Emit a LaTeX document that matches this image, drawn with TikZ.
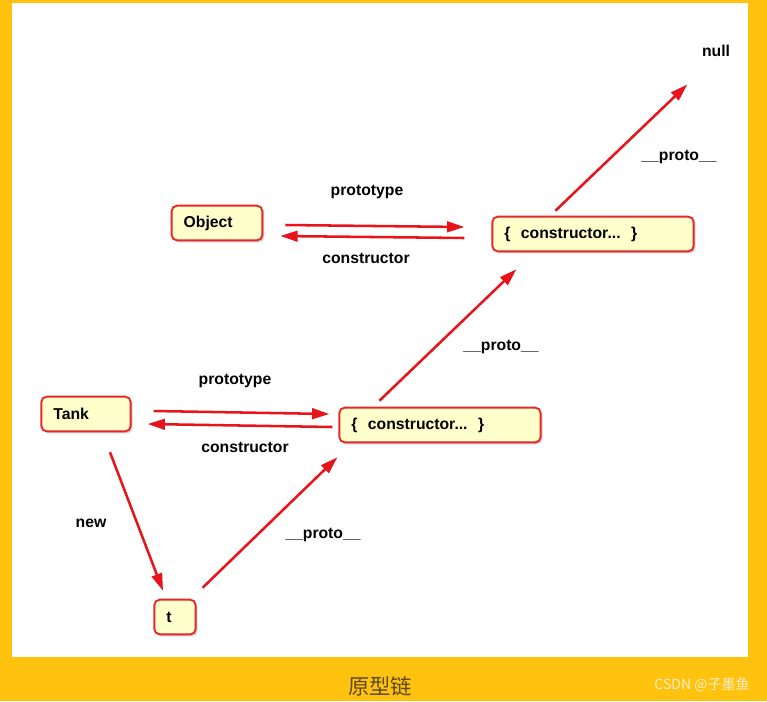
\documentclass[tikz,border=0pt]{standalone}
\usepackage{fontspec}
\setmainfont{Liberation Sans}
\newfontfamily\cjk{Noto Sans CJK SC}
\usepackage{tikz}
\usetikzlibrary{arrows.meta,calc,shadows}

\definecolor{frameyellow}{HTML}{FFC20E}
\definecolor{boxfill}{HTML}{FFFFCC}
\definecolor{boxred}{HTML}{E8262A}
\definecolor{linkred}{HTML}{E8141B}
\definecolor{captiongray}{HTML}{5A4A22}
\definecolor{markgray}{HTML}{FBF0CC}

\tikzset{
  objbox/.style={draw=boxred,line width=1.4pt,fill=boxfill,rounded corners=4pt,
    minimum height=26pt,inner xsep=9pt,align=left,
    font=\bfseries\fontsize{11.8}{14}\selectfont,
    drop shadow={shadow xshift=1.5pt,shadow yshift=-1.5pt,opacity=0.35}},
  link/.style={draw=linkred,line width=1.9pt,-{Triangle[length=13pt,width=8pt]}},
  lbl/.style={font=\bfseries\fontsize{11.8}{14}\selectfont}
}

\begin{document}
\begin{tikzpicture}[x=0.75pt,y=-0.75pt]
\useasboundingbox (0,0) rectangle (767,701);
\fill[frameyellow] (0,0) rectangle (767,701);
\fill[white] (12,3) rectangle (748,657);

% nodes
\node[objbox,text width=50pt] (obj) at (217,223) {Object};
\node[objbox,text width=133pt] (objproto) at (593,234) {\{\ \ constructor...\ \ \}};
\node[objbox,text width=49pt] (tank) at (86,414) {Tank};
\node[objbox,text width=133pt] (tankproto) at (440,425) {\{\ \ constructor...\ \ \}};
\node[objbox,text width=13pt] (t) at (175,617) {t};
\node[lbl] (null) at (716,51) {null};

% links
\draw[link] ($(obj.east)+(22,2)$) -- ($(objproto.west)+(-27,-7)$);
\draw[link] ($(objproto.west)+(-27,4)$) -- ($(obj.east)+(17,13)$);
\draw[link] ($(tank.east)+(22,-3)$) -- ($(tankproto.west)+(-9,-11)$);
\draw[link] ($(tankproto.west)+(-6,2)$) -- ($(tank.east)+(16,10)$);
\draw[link] ($(tank.south)+(24,20)$) -- ($(t.north)+(-12,-8)$);
\draw[link] ($(t.north east)+(6,-11)$) -- ($(tankproto.south west)+(-1,14)$);
\draw[link] ($(tankproto.north west)+(41,-6)$) -- ($(objproto.south west)+(25,17)$);
\draw[link] ($(objproto.north west)+(64,-5)$) -- ($(null.south west)+(-10,23)$);

% labels
\node[lbl] at (367,192) {prototype};
\node[lbl] at (366,258) {constructor};
\node[lbl] at (235,381) {prototype};
\node[lbl] at (245,447) {constructor};
\node[lbl] at (91,523) {new};
\node[lbl] at (323,535) {\_\_proto\_\_};
\node[lbl] at (501,347) {\_\_proto\_\_};
\node[lbl] at (679,157) {\_\_proto\_\_};

% caption
\node[text=captiongray,font=\cjk\fontsize{16}{18}\selectfont] at (380,686) {原型链};
\node[text=markgray,font=\cjk\fontsize{10.5}{12}\selectfont] at (702,685) {CSDN @子墨鱼};
\end{tikzpicture}
\end{document}
